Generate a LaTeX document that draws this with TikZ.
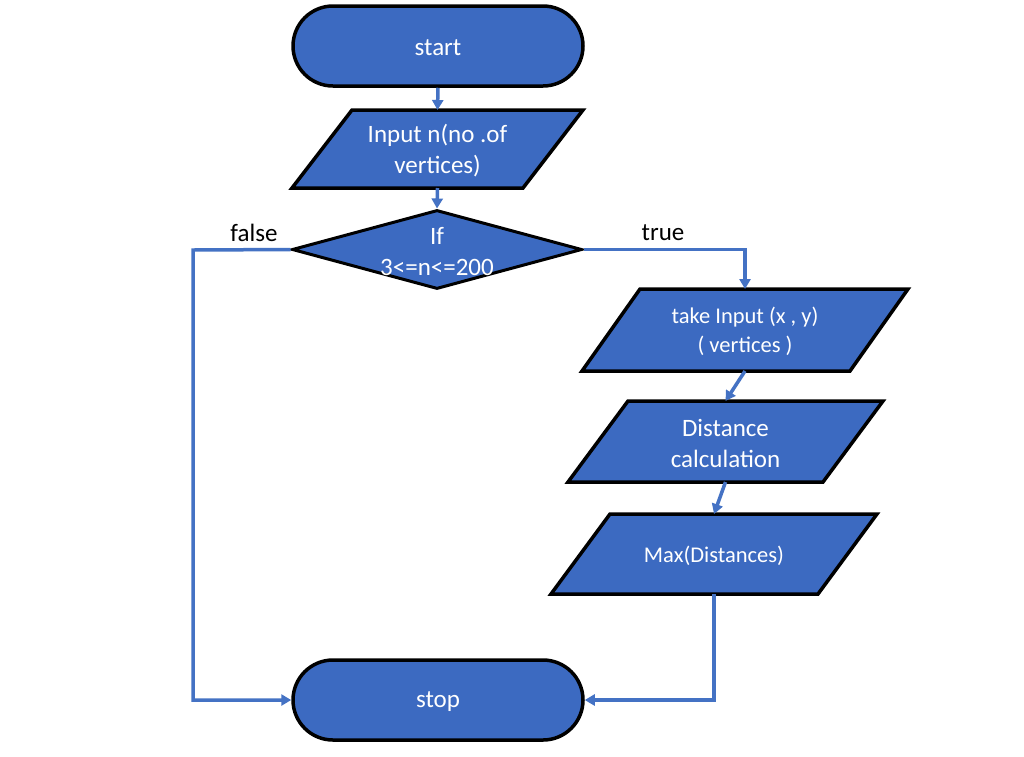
\documentclass[tikz,border=0pt]{standalone}
\usepackage{fontspec}
\setmainfont{Carlito}
\usetikzlibrary{shapes.geometric,shapes.misc,arrows.meta}
\definecolor{boxblue}{RGB}{60,106,193}
\definecolor{lineblue}{RGB}{68,114,196}
\tikzset{
  term/.style={rounded rectangle, draw=black, line width=3.5pt, fill=boxblue,
    minimum width=290pt, minimum height=80pt, inner sep=0pt},
  iobox/.style={rectangle, inner sep=0pt, outer sep=0pt},
  iofill/.style={draw=black, line width=3.5pt, fill=boxblue, line join=miter},
  decision/.style={diamond, draw=black, line width=3pt, fill=boxblue,
    minimum width=290pt, minimum height=79pt, inner sep=0pt},
  wtxt/.style={text=white, align=center, yshift=-1.5pt, font=\fontsize{25}{31}\selectfont},
  stxt/.style={text=white, align=center, yshift=-1.5pt, font=\fontsize{22.5}{29}\selectfont},
  btxt/.style={text=black, font=\fontsize{25}{31}\selectfont},
  conn/.style={draw=lineblue, line width=3.5pt, -{Triangle[length=10pt,width=11pt]}},
}
\begin{document}
\begin{tikzpicture}[x=1pt,y=-1pt]
\useasboundingbox (0,0) rectangle (1024,756);
\fill[white] (0,0) rectangle (1024,756);
% terminals and decision
\node[term] (start) at (438,46) {};
\node[wtxt] (startt) at (start) {start};
\node[decision] (dia) at (437,249.5) {};
\node[wtxt] (diat) at (437,250) {If\\3<=n<=200};
\node[term] (stop) at (438,700) {};
\node[wtxt] (stopt) at (stop) {stop};
% input/output parallelograms (bounding boxes)
\node[iobox, minimum width=291pt, minimum height=78pt] (inp) at (437.5,149) {};
\node[iobox, minimum width=326pt, minimum height=82pt] (tin) at (745,330) {};
\node[iobox, minimum width=315pt, minimum height=81pt] (dist) at (725.5,441.5) {};
\node[iobox, minimum width=326pt, minimum height=80pt] (mx) at (714,554) {};
\draw[iofill] (inp.south west) -- ([xshift=60pt]inp.north west) -- (inp.north east) -- ([xshift=-60pt]inp.south east) -- cycle;
\draw[iofill] (tin.south west) -- ([xshift=58pt]tin.north west) -- (tin.north east) -- ([xshift=-58pt]tin.south east) -- cycle;
\draw[iofill] (dist.south west) -- ([xshift=60pt]dist.north west) -- (dist.north east) -- ([xshift=-60pt]dist.south east) -- cycle;
\draw[iofill] (mx.south west) -- ([xshift=59pt]mx.north west) -- (mx.north east) -- ([xshift=-59pt]mx.south east) -- cycle;
\node[wtxt] (inpt) at (inp) {Input n(no .of\\vertices)};
\node[stxt] (tint) at (tin) {take Input (x , y)\\( vertices )};
\node[wtxt] (distt) at (dist) {Distance\\calculation};
\node[stxt] (mxt) at (mx) {Max(Distances)};
% labels
\node[btxt] (lfalse) at (254,233) {false};
\node[btxt] (ltrue) at (663,233) {true};
% connectors
\coordinate (fcorner) at (193,250);
\draw[conn] (start.south) -- (inp.north);
\draw[conn] (inp.south) -- (dia.north);
\draw[conn] (dia.east) -| (tin.north);
\draw[conn] (dia.west) -- (fcorner) |- (stop.west);
\draw[conn] (tin.south) -- (dist.north);
\draw[conn] (dist.south) -- (mx.north);
\draw[conn] (mx.south) |- (stop.east);
\end{tikzpicture}
\end{document}
